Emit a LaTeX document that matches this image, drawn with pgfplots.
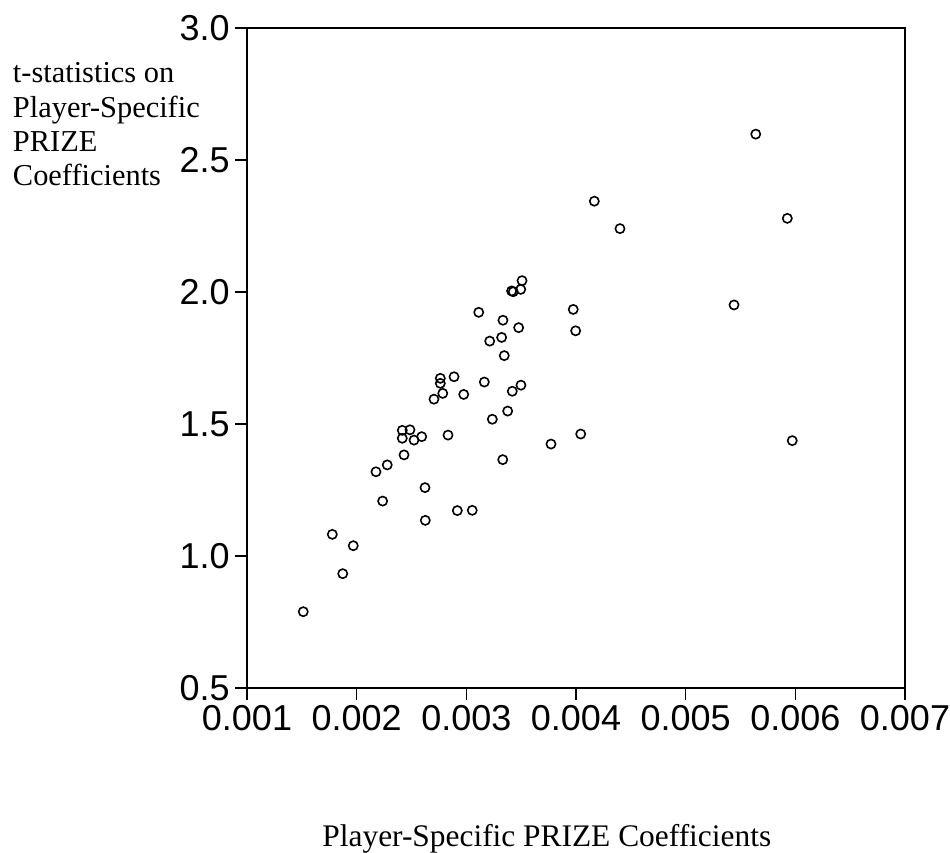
\documentclass[border=0pt]{standalone}
\usepackage{fontspec}
\setmainfont{Liberation Serif}
\newfontfamily\arialfont{Liberation Sans}
\usepackage{pgfplots}
\pgfplotsset{compat=1.18}
\begin{document}
\begin{tikzpicture}
\path[use as bounding box] (-123.5bp,-82.5bp) rectangle (351.5bp,344bp);
\begin{axis}[
  at={(0,0)}, anchor=south west,
  width=329bp, height=330bp, scale only axis=true,
  xmin=0.001, xmax=0.007, ymin=0.5, ymax=3.0,
  axis x line*=bottom, axis y line*=left,
  axis line style={line width=1bp, -},
  xtick={0.001,0.002,0.003,0.004,0.005,0.006,0.007},
  xticklabels={0.001,0.002,0.003,0.004,0.005,0.006,0.007},
  ytick={0.5,1.0,1.5,2.0,2.5,3.0},
  yticklabels={0.5,1.0,1.5,2.0,2.5,3.0},
  tick align=outside, major tick length=6bp,
  tick style={line width=0.6bp, black},
  /pgf/number format/assume math mode=true,
  ticklabel style={font=\arialfont\fontsize{18bp}{18bp}\selectfont, inner sep=2.5bp},
  scaled x ticks=false,
  clip=false,
]
\addplot[only marks, mark=o, mark size=2.3bp, mark options={line width=0.8bp, black}] coordinates {
(0.001513,0.789) (0.001778,1.082) (0.001969,1.039) (0.001873,0.933)
(0.002237,1.208) (0.002176,1.319) (0.002279,1.345) (0.002432,1.383)
(0.002416,1.476) (0.002486,1.478) (0.002416,1.446) (0.002523,1.439)
(0.002593,1.452) (0.002833,1.458) (0.002623,1.259) (0.002626,1.135)
(0.002918,1.172) (0.003054,1.173) (0.002763,1.673) (0.002763,1.654)
(0.002888,1.679) (0.002785,1.616) (0.002705,1.594) (0.002976,1.612)
(0.003164,1.659) (0.003113,1.923) (0.003213,1.814) (0.003237,1.518)
(0.003322,1.828) (0.003334,1.893) (0.003346,1.759) (0.003332,1.365)
(0.003377,1.549) (0.003419,1.624) (0.003498,1.647) (0.003477,1.865)
(0.003428,2.001) (0.003413,2.004) (0.003496,2.010) (0.003508,2.043)
(0.003772,1.424) (0.003975,1.934) (0.003997,1.853) (0.004043,1.462)
(0.004167,2.344) (0.004401,2.240) (0.005441,1.951) (0.005639,2.598)
(0.005927,2.279) (0.005972,1.437)
};
\draw[line width=1bp] (axis cs:0.001,3.0) -- (axis cs:0.007,3.0) -- (axis cs:0.007,0.5);
\end{axis}
\begin{scope}[every node/.style={font=\fontsize{15.2bp}{17.25bp}\selectfont, inner sep=0pt, anchor=base west}]
\node at (-117.2bp,302.5bp) {t-statistics on};
\node at (-117.2bp,285.4bp) {Player-Specific};
\node at (-117.2bp,268.2bp) {PRIZE};
\node at (-117.2bp,251.0bp) {Coefficients};
\end{scope}
\node[font=\fontsize{15.7bp}{18bp}\selectfont, inner sep=0pt, anchor=base] at (149.9bp,-79bp) {Player-Specific PRIZE Coefficients};
\end{tikzpicture}
\end{document}
